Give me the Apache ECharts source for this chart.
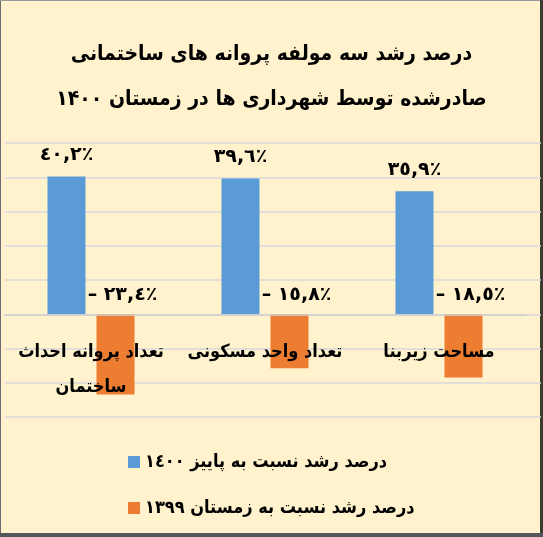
<!DOCTYPE html>
<html>
<head>
<meta charset="utf-8">
<script src="https://cdn.jsdelivr.net/npm/echarts@6/dist/echarts.min.js"></script>
<style>
  html, body { margin: 0; padding: 0; background: #FFF2CC; }
  #chart { width: 543px; height: 537px; }
</style>
</head>
<body>
<div id="chart"></div>
<script>
// Building-permit growth figures, winter 1400
const categories = ['تعداد پروانه احداث\nساختمان', 'تعداد واحد مسکونی', 'مساحت زیربنا'];
const seriesNames = ['درصد رشد نسبت به پاییز ١٤٠٠', 'درصد رشد نسبت به زمستان ١٣٩٩'];
const vsAutumn1400 = [40.2, 39.6, 35.9];
const vsWinter1399 = [-23.4, -15.8, -18.5];
const yTicks = { min: -30, max: 50, interval: 10 };
const titleText = 'درصد رشد سه مولفه پروانه های ساختمانی\nصادرشده توسط شهرداری ها در زمستان ۱۴۰۰';

const FONT = 'DejaVu Sans Condensed';
const arabicDigits = '٠١٢٣٤٥٦٧٨٩';

function toArabicPercent(v) {
  const s = Math.abs(v).toFixed(1).replace(/\d/g, d => arabicDigits[+d]).replace('.', ',');
  return (v < 0 ? '– ' : '') + s + '٪';
}

const chart = echarts.init(document.getElementById('chart'), null, { renderer: 'canvas' });

// plot area geometry
const GRID_TOP = 143, GRID_BOTTOM = 120, GRID_HEIGHT = 537 - GRID_TOP - GRID_BOTTOM;
// lift the category axis from the bottom edge up to the zero line
const zeroOffset = -GRID_HEIGHT * (0 - yTicks.min) / (yTicks.max - yTicks.min);

const labelBase = {
  show: true,
  position: 'top',
  color: '#000',
  fontFamily: 'DejaVu Sans',
  fontWeight: 'bold',
  fontSize: 19,
  formatter: p => toArabicPercent(p.value)
};

chart.setOption({
  backgroundColor: '#FFF2CC',
  animation: false,
  title: {
    text: titleText,
    left: 'center',
    top: 27,
    textStyle: {
      fontFamily: FONT,
      fontWeight: 'bold',
      fontSize: 21,
      lineHeight: 45,
      color: '#000'
    }
  },
  legend: {
    orient: 'vertical',
    left: 123,
    top: 448,
    itemWidth: 12,
    itemHeight: 12,
    itemGap: 28,
    icon: 'rect',
    data: seriesNames,
    textStyle: {
      fontFamily: FONT,
      fontWeight: 'bold',
      fontSize: 18,
      color: '#000'
    }
  },
  grid: [
    // full-width grid that carries only the horizontal gridlines
    { left: 5, right: 2, top: GRID_TOP, bottom: GRID_BOTTOM },
    // grid that carries the bars
    { left: 4, right: 17, top: GRID_TOP, bottom: GRID_BOTTOM }
  ],
  xAxis: [
    { gridIndex: 0, type: 'category', data: categories, show: false },
    {
      gridIndex: 1,
      type: 'category',
      data: categories,
      z: 10,
      offset: zeroOffset,
      axisLine: { show: true, onZero: false, lineStyle: { color: '#cfcfcf', width: 1.5 } },
      axisTick: { show: false },
      axisLabel: {
        interval: 0,
        color: '#000',
        fontFamily: FONT,
        fontWeight: 'bold',
        fontSize: 18,
        lineHeight: 35,
        margin: 21
      }
    }
  ],
  yAxis: [
    {
      gridIndex: 0,
      type: 'value',
      min: yTicks.min, max: yTicks.max, interval: yTicks.interval,
      axisLine: { show: false }, axisTick: { show: false }, axisLabel: { show: false },
      splitLine: { show: true, lineStyle: { color: '#d8d8dc', width: 1.5 } }
    },
    {
      gridIndex: 1,
      type: 'value',
      min: yTicks.min, max: yTicks.max, interval: yTicks.interval,
      axisLine: { show: false }, axisTick: { show: false }, axisLabel: { show: false },
      splitLine: { show: false }
    }
  ],
  series: [
    {
      name: seriesNames[0],
      type: 'bar',
      xAxisIndex: 1, yAxisIndex: 1,
      data: vsAutumn1400,
      barWidth: 38,
      barGap: '29%',
      itemStyle: { color: '#5B9BD5' },
      label: Object.assign({}, labelBase, { distance: 12 })
    },
    {
      name: seriesNames[1],
      type: 'bar',
      xAxisIndex: 1, yAxisIndex: 1,
      data: vsWinter1399,
      barWidth: 38,
      barGap: '29%',
      itemStyle: { color: '#ED7D31' },
      label: Object.assign({}, labelBase, { distance: 10, offset: [7, 0] })
    }
  ],
  graphic: [
    { type: 'rect', shape: { x: 0, y: 0, width: 1, height: 537 }, style: { fill: '#6b6b6b' }, silent: true },
    { type: 'rect', shape: { x: 0, y: 0, width: 543, height: 1 }, style: { fill: '#9a9a9a' }, silent: true },
    { type: 'rect', shape: { x: 540, y: 0, width: 3, height: 537 }, style: { fill: '#3b3b33' }, silent: true },
    { type: 'rect', shape: { x: 0, y: 533, width: 543, height: 4 }, style: { fill: '#55565c' }, silent: true }
  ]
});
</script>
</body>
</html>
